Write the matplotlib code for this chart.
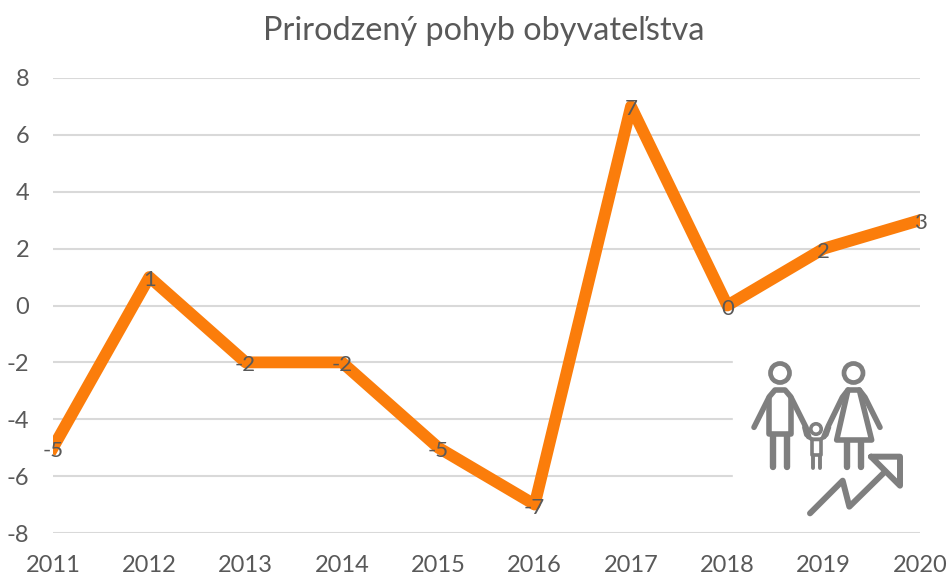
import matplotlib
matplotlib.use("Agg")
import matplotlib.pyplot as plt
from matplotlib.patches import Circle, Rectangle

years = ["2011", "2012", "2013", "2014", "2015", "2016", "2017", "2018", "2019", "2020"]
values = [-5, 1, -2, -2, -5, -7, 7, 0, 2, 3]
y_ticks = [-8, -6, -4, -2, 0, 2, 4, 6, 8]
title = "Prirodzený pohyb obyvateľstva"

GRAY = "#595959"
ICON = "#7f7f7f"
ORANGE = "#fb7d0b"

plt.rcParams["font.family"] = ["Lato", "DejaVu Sans"]
plt.rcParams["axes.unicode_minus"] = False

fig = plt.figure(figsize=(9.49, 5.75), dpi=100)
# axes box in pixels: x 53-920, y 78-533
ax = fig.add_axes([53 / 949, 1 - 533 / 575, 867 / 949, 455 / 575])

ax.plot(range(len(values)), values, color=ORANGE, lw=8.5, solid_joinstyle="round", zorder=3)
for i, v in enumerate(values):
    ax.annotate(str(v), (i, v), xytext=(0, -2.2), textcoords="offset points",
                ha="center", va="center", fontsize=16, color=GRAY, zorder=4,
                annotation_clip=False)

ax.set_xlim(0, len(years) - 1)
ax.set_ylim(-8, 8)
ax.set_xticks(range(len(years)), years)
ax.set_yticks(y_ticks, [str(t) for t in y_ticks])
ax.grid(axis="y", color="#d9d9d9", lw=1.5, zorder=0)
ax.tick_params(length=0, labelsize=17, labelcolor=GRAY)
ax.tick_params(axis="x", pad=16)
ax.tick_params(axis="y", pad=17)
for spine in ax.spines.values():
    spine.set_visible(False)

fig.text(484 / 949, 1 - 31.5 / 575, title, ha="center", va="center", fontsize=23.3, color=GRAY)

# icon drawn in pixel coordinates on an overlay
ov = fig.add_axes([0, 0, 1, 1], facecolor="none")
ov.set_xlim(0, 949)
ov.set_ylim(575, 0)
ov.axis("off")
ov.add_patch(Rectangle((733, 350), 195, 175, color="white", zorder=1))


def icon_line(points, width, closed=False):
    xs = [730 + p[0] / 3 for p in points]
    ys = [340 + p[1] / 3 for p in points]
    if closed:
        xs.append(xs[0])
        ys.append(ys[0])
    ov.plot(xs, ys, color=ICON, lw=width, solid_capstyle="round", solid_joinstyle="round", zorder=2)


for cx, cy, r, ring in [(780, 373, 9.5, 3.4), (853.5, 373, 9.5, 3.4), (816, 429, 5.2, 2.6)]:
    ov.add_patch(Circle((cx, cy), r, fc="none", ec=ICON, lw=ring, zorder=2))

# father
icon_line([(72, 262), (118, 170), (135, 150), (165, 150), (182, 170), (228, 262), (236, 290)], 4)
icon_line([(118, 175), (118, 282), (182, 282), (182, 175)], 4)
icon_line([(128, 285), (128, 382)], 4.6)
icon_line([(170, 285), (170, 382)], 4.6)
# mother
icon_line([(450, 262), (405, 172), (388, 150), (354, 150), (337, 172), (295, 258), (282, 290)], 4)
icon_line([(354, 150), (320, 300), (425, 300), (388, 150)], 4)
icon_line([(352, 305), (352, 382)], 4.6)
icon_line([(392, 305), (392, 382)], 4.6)
# child
icon_line([(222, 262), (228, 285), (245, 298), (272, 298), (290, 285), (298, 262)], 2.8)
icon_line([(246, 298), (246, 345), (272, 345), (272, 298)], 2.6)
icon_line([(248, 345), (248, 385)], 2.8)
icon_line([(271, 345), (271, 385)], 2.8)
# rising arrow
icon_line([(240, 520), (338, 422), (358, 500), (465, 395)], 4.3)
icon_line([(423, 350), (510, 350), (510, 437)], 4.3, closed=True)

fig.savefig("out.png", dpi=100)
